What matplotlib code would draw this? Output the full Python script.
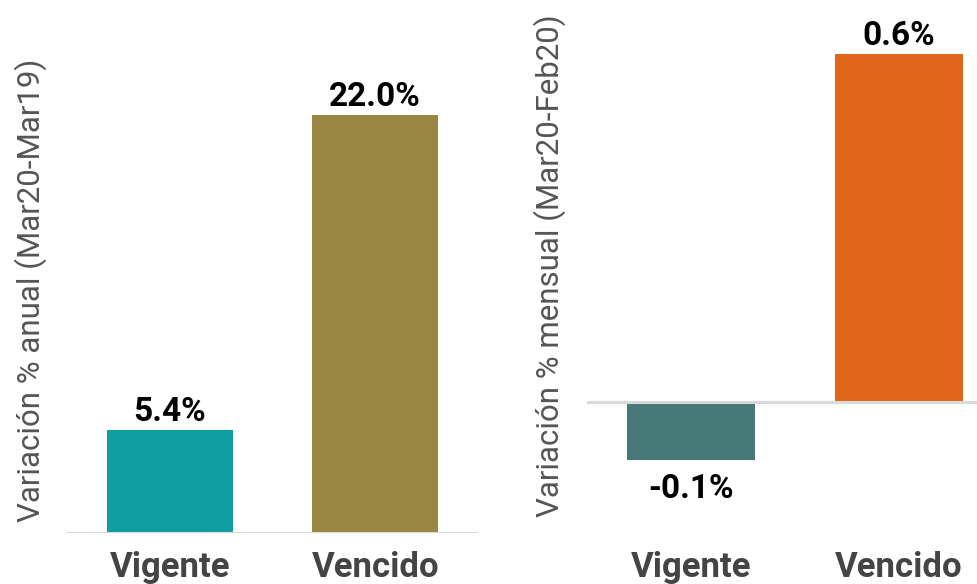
import matplotlib
matplotlib.use("Agg")
import matplotlib.pyplot as plt

plt.rcParams['font.family'] = ['Roboto', 'DejaVu Sans']

categories = ["Vigente", "Vencido"]
annual_change = [5.4, 22.0]
monthly_change = [-0.1, 0.6]
annual_colors = ["#0F9EA2", "#9A8842"]
monthly_colors = ["#457A78", "#E0661A"]

fig = plt.figure(figsize=(9.77, 5.84), dpi=100)
W, H = 977, 584

# axes placed in pixel terms so both share the same bottom edge
ax1 = fig.add_axes([67 / W, 51 / H, (478 - 67) / W, (574 - 51) / H])
ax2 = fig.add_axes([587 / W, 51 / H, (977 - 587) / W, (574 - 51) / H])


def draw_panel(ax, values, colors, ylim, xlim, ylabel):
    x = range(len(categories))
    bars = ax.bar(x, values, width=0.615, color=colors, zorder=2)
    ax.axhline(0, color="#d9d9d9", lw=2.2, zorder=3)
    ax.set_xlim(*xlim)
    ax.set_ylim(*ylim)
    ax.set_xticks(list(x))
    ax.set_xticklabels(categories, fontsize=25, fontweight="bold", color="#444444")
    ax.tick_params(axis="x", length=0, pad=13)
    ax.set_yticks([])
    for s in ax.spines.values():
        s.set_visible(False)
    for b, v in zip(bars, values):
        cx = b.get_x() + b.get_width() / 2
        if v >= 0:
            ax.annotate(f"{v:.1f}%", (cx, v), xytext=(0, 6.5),
                        textcoords="offset points", ha="center", va="baseline",
                        fontsize=24, fontweight="bold", color="black")
        else:
            ax.annotate(f"{v:.1f}%", (cx, v), xytext=(0, -9),
                        textcoords="offset points", ha="center", va="top",
                        fontsize=24, fontweight="bold", color="black")
    ax.set_ylabel(ylabel, fontsize=22.5, color="#555555")


draw_panel(ax1, annual_change, annual_colors, (0, 27.5), (-0.5, 1.5),
           "Variación % anual (Mar20-Mar19)")
draw_panel(ax2, monthly_change, monthly_colors, (-0.225, 0.675), (-0.5, 1.375),
           "Variación % mensual (Mar20-Feb20)")

ax1.yaxis.set_label_coords(47 / W, 1 - 290 / H, transform=fig.transFigure)
ax2.yaxis.set_label_coords(566 / W, 1 - 266 / H, transform=fig.transFigure)

fig.savefig("out.png", dpi=100)
